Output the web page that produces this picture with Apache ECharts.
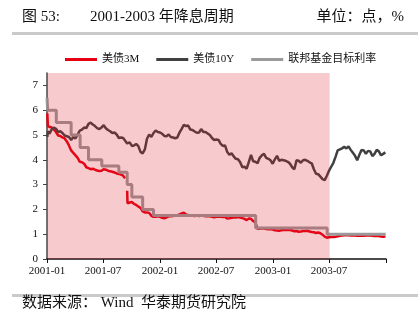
<!DOCTYPE html>
<html>
<head>
<meta charset="utf-8">
<script src="https://cdn.jsdelivr.net/npm/echarts@6/dist/echarts.min.js"></script>
<style>
html, body { margin: 0; padding: 0; background: #fff; }
#chart { width: 418px; height: 326px; }
</style>
</head>
<body>
<div id="chart"></div>
<script>
// Weekly observations (plus a few extra days around key moves), 2001-2003
const dates2001 = [
  '2001-01-02','2001-01-04','2001-01-09','2001-01-16','2001-01-23','2001-01-30',
  '2001-02-06','2001-02-13','2001-02-20','2001-02-27',
  '2001-03-06','2001-03-13','2001-03-20','2001-03-27',
  '2001-04-03','2001-04-10','2001-04-17','2001-04-24',
  '2001-05-01','2001-05-08','2001-05-15','2001-05-22','2001-05-29',
  '2001-06-05','2001-06-12','2001-06-19','2001-06-26',
  '2001-07-03','2001-07-10','2001-07-17','2001-07-24','2001-07-31',
  '2001-08-07','2001-08-14','2001-08-21','2001-08-28',
  '2001-09-04','2001-09-10','2001-09-11','2001-09-17','2001-09-18','2001-09-25',
  '2001-10-02','2001-10-09','2001-10-16','2001-10-23','2001-10-30',
  '2001-11-06','2001-11-13','2001-11-20','2001-11-27',
  '2001-12-04','2001-12-11','2001-12-18','2001-12-25'
];
const bill3m2001 = [
  5.87, 5.35, 5.28, 5.30, 5.22, 5.12,
  4.98, 4.96, 4.90, 4.86,
  4.74, 4.58, 4.38, 4.28,
  4.18, 4.08, 3.92, 3.90,
  3.84, 3.70, 3.66, 3.62, 3.64,
  3.60, 3.57, 3.55, 3.56,
  3.62, 3.60, 3.56, 3.54, 3.52,
  3.49, 3.45, 3.43, 3.40,
  3.36, 3.25, null, 2.75, 2.25, 2.28,
  2.30, 2.22, 2.18, 2.12, 2.06,
  1.92, 1.88, 1.88, 1.86,
  1.74, 1.70, 1.70, 1.72
];
const note10y2001 = [
  4.92, 5.15, 5.05, 5.22, 5.30, 5.25,
  5.12, 5.15, 5.08, 4.98,
  4.95, 4.92, 4.80, 4.92,
  4.86, 5.02, 5.18, 5.22,
  5.30, 5.28, 5.45, 5.50, 5.42,
  5.36, 5.28, 5.24, 5.30,
  5.40, 5.27, 5.20, 5.15, 5.08,
  5.10, 5.02, 4.88, 4.90,
  4.88, 4.82, null, 4.66, 4.70, 4.70,
  4.56, 4.58, 4.64, 4.55, 4.32,
  4.26, 4.42, 4.85, 5.02,
  4.92, 5.08, 5.18, 5.12
];

const dates2002 = [
  '2002-01-01','2002-01-08','2002-01-15','2002-01-22','2002-01-29',
  '2002-02-05','2002-02-12','2002-02-19','2002-02-26',
  '2002-03-05','2002-03-12','2002-03-19','2002-03-26',
  '2002-04-02','2002-04-09','2002-04-16','2002-04-23','2002-04-30',
  '2002-05-07','2002-05-14','2002-05-21','2002-05-28',
  '2002-06-04','2002-06-11','2002-06-18','2002-06-25',
  '2002-07-02','2002-07-09','2002-07-16','2002-07-23','2002-07-30',
  '2002-08-06','2002-08-13','2002-08-20','2002-08-27',
  '2002-09-03','2002-09-10','2002-09-17','2002-09-24',
  '2002-10-01','2002-10-08','2002-10-15','2002-10-22','2002-10-29',
  '2002-11-05','2002-11-12','2002-11-19','2002-11-26',
  '2002-12-03','2002-12-10','2002-12-17','2002-12-24','2002-12-31'
];
const bill3m2002 = [
  1.70, 1.66, 1.64, 1.68, 1.72,
  1.72, 1.73, 1.75, 1.77,
  1.80, 1.84, 1.87, 1.80,
  1.77, 1.74, 1.74, 1.73, 1.75,
  1.73, 1.75, 1.74, 1.72,
  1.72, 1.72, 1.70, 1.68,
  1.70, 1.71, 1.70, 1.69, 1.69,
  1.63, 1.64, 1.66, 1.67,
  1.67, 1.69, 1.67, 1.65,
  1.62, 1.57, 1.63, 1.62, 1.53,
  1.47, 1.22, 1.22, 1.24,
  1.23, 1.21, 1.20, 1.20, 1.19
];
const note10y2002 = [
  5.10, 5.05, 4.96, 4.95, 5.02,
  4.92, 4.90, 4.87, 4.90,
  5.10, 5.25, 5.41, 5.36,
  5.38, 5.22, 5.20, 5.14, 5.09,
  5.10, 5.24, 5.12, 5.12,
  5.06, 5.00, 4.88, 4.80,
  4.82, 4.80, 4.64, 4.56, 4.58,
  4.32, 4.20, 4.26, 4.14,
  4.04, 4.02, 3.90, 3.70,
  3.72, 3.64, 3.92, 4.20, 3.94,
  3.92, 3.86, 4.08, 4.18,
  4.24, 4.08, 4.04, 3.98, 3.84
];

const dates2003 = [
  '2003-01-07','2003-01-14','2003-01-21','2003-01-28',
  '2003-02-04','2003-02-11','2003-02-18','2003-02-25',
  '2003-03-04','2003-03-11','2003-03-18','2003-03-25',
  '2003-04-01','2003-04-08','2003-04-15','2003-04-22','2003-04-29',
  '2003-05-06','2003-05-13','2003-05-20','2003-05-27',
  '2003-06-03','2003-06-10','2003-06-17','2003-06-24',
  '2003-07-01','2003-07-08','2003-07-15','2003-07-22','2003-07-29',
  '2003-08-05','2003-08-12','2003-08-19','2003-08-26',
  '2003-09-02','2003-09-09','2003-09-16','2003-09-23','2003-09-30',
  '2003-10-07','2003-10-14','2003-10-21','2003-10-28',
  '2003-11-04','2003-11-11','2003-11-18','2003-11-25',
  '2003-12-02','2003-12-09','2003-12-16','2003-12-23','2003-12-30'
];
const bill3m2003 = [
  1.16, 1.15, 1.14, 1.16,
  1.17, 1.17, 1.18, 1.17,
  1.15, 1.12, 1.13, 1.10,
  1.11, 1.13, 1.13, 1.14, 1.11,
  1.09, 1.08, 1.05, 1.07,
  1.04, 0.98, 0.90, 0.86,
  0.88, 0.89, 0.89, 0.90, 0.92,
  0.94, 0.95, 0.96, 0.97,
  0.96, 0.95, 0.96, 0.95, 0.94,
  0.95, 0.94, 0.94, 0.95,
  0.95, 0.95, 0.94, 0.93,
  0.94, 0.93, 0.91, 0.90, 0.91
];
const note10y2003 = [
  4.02, 4.16, 3.96, 4.00,
  3.98, 3.96, 3.92, 3.84,
  3.70, 3.62, 3.98, 3.96,
  3.88, 3.98, 4.00, 3.96, 3.90,
  3.86, 3.62, 3.44, 3.42,
  3.32, 3.22, 3.18, 3.36,
  3.56, 3.72, 3.88, 4.12, 4.38,
  4.42, 4.46, 4.52, 4.46,
  4.54, 4.40, 4.28, 4.16, 3.98,
  4.20, 4.40, 4.38, 4.24,
  4.36, 4.34, 4.15, 4.24,
  4.40, 4.34, 4.18, 4.24, 4.30
];

// Fed funds target: effective date of each change and the new level
const fedDates = [
  '2001-01-01','2001-01-03','2001-01-31','2001-03-20','2001-04-18','2001-05-15',
  '2001-06-27','2001-08-21','2001-09-17','2001-10-02','2001-11-06','2001-12-11',
  '2002-11-06','2003-06-25','2003-12-31'
];
const fedRates = [
  6.5, 6.0, 5.5, 5.0, 4.5, 4.0,
  3.75, 3.5, 3.0, 2.5, 2.0, 1.75,
  1.25, 1.0, 1.0
];

// Easing cycle shading
const easingStart = '2001-01-01';
const easingEnd = '2003-07-03';

// Axis ranges and tick labels
const xStart = '2001-01-01';
const xEnd = '2004-01-01';
const xTickDates = ['2001-01-01','2001-07-01','2002-01-01','2002-07-01','2003-01-01','2003-07-01','2004-01-01'];
const xLabelDates = ['2001-01-01','2001-07-01','2002-01-01','2002-07-01','2003-01-01','2003-07-01'];
const yTicks = [0, 1, 2, 3, 4, 5, 6, 7];
const yMax = 7.5;

const seriesNames = ['美债3M', '美债10Y', '联邦基金目标利率'];

function toTime(s) {
  const p = s.split('-').map(Number);
  return new Date(p[0], p[1] - 1, p[2]).getTime();
}
function pairs(ds, vs) {
  return ds.map((d, i) => [toTime(d), vs[i]]);
}

const dates = dates2001.concat(dates2002, dates2003);
const bill3m = bill3m2001.concat(bill3m2002, bill3m2003);
const note10y = note10y2001.concat(note10y2002, note10y2003);

const serif = "'Liberation Serif', 'Noto Sans CJK SC', serif";

const chart = echarts.init(document.getElementById('chart'), null, { renderer: 'canvas' });

chart.setOption({
  animation: false,
  backgroundColor: '#ffffff',
  grid: { left: 47, right: 32, top: 73, bottom: 67, containLabel: false },
  legend: {
    data: seriesNames,
    left: 60,
    top: 49,
    icon: 'rect',
    itemWidth: 32,
    itemHeight: 3,
    itemGap: 17,
    textStyle: { fontSize: 11, fontFamily: serif, color: '#111' }
  },
  xAxis: {
    // dates are plotted as timestamps on a linear axis
    type: 'value',
    min: toTime(xStart),
    max: toTime(xEnd),
    axisLine: { show: true, onZero: false, lineStyle: { color: '#111', width: 1.5 } },
    axisTick: {
      show: true, length: 4, inside: false,
      lineStyle: { color: '#111', width: 1 },
      customValues: xTickDates.map(toTime)
    },
    axisLabel: {
      customValues: xLabelDates.map(toTime),
      fontSize: 11,
      fontFamily: serif,
      color: '#111',
      margin: 7,
      formatter: function (v) {
        const d = new Date(v);
        const m = d.getMonth() + 1;
        return d.getFullYear() + '-' + (m < 10 ? '0' + m : m);
      }
    },
    splitLine: { show: false }
  },
  yAxis: {
    type: 'value',
    min: 0,
    max: yMax,
    interval: 1,
    axisLine: { show: true, lineStyle: { color: '#444', width: 1.5 } },
    axisTick: { show: true, length: 4, lineStyle: { color: '#444' }, customValues: yTicks },
    axisLabel: {
      customValues: yTicks,
      fontSize: 11, fontFamily: serif, color: '#111', margin: 9
    },
    splitLine: { show: false }
  },
  series: [
    {
      name: seriesNames[0],
      type: 'line',
      data: pairs(dates, bill3m),
      showSymbol: false,
      symbol: 'none',
      connectNulls: false,
      lineStyle: { color: '#e60012', width: 2.5 },
      itemStyle: { color: '#e60012' },
      z: 2
    },
    {
      name: seriesNames[1],
      type: 'line',
      data: pairs(dates, note10y),
      showSymbol: false,
      symbol: 'none',
      connectNulls: true,
      lineStyle: { color: '#404040', width: 2.5 },
      itemStyle: { color: '#404040' },
      z: 2
    },
    {
      name: seriesNames[2],
      type: 'line',
      step: 'end',
      data: pairs(fedDates, fedRates),
      showSymbol: false,
      symbol: 'none',
      lineStyle: { color: '#9a9a9a', width: 3 },
      itemStyle: { color: '#9a9a9a' },
      z: 2
    },
    {
      // translucent band laid over the lines for the easing period
      type: 'custom',
      silent: true,
      z: 10,
      data: [[toTime(easingStart), toTime(easingEnd), 0, yMax]],
      encode: { x: [0, 1], y: [2, 3] },
      renderItem: function (params, api) {
        const a = api.coord([api.value(0), api.value(2)]);
        const b = api.coord([api.value(1), api.value(3)]);
        return {
          type: 'rect',
          shape: { x: a[0], y: b[1], width: b[0] - a[0], height: a[1] - b[1] },
          style: { fill: 'rgba(220, 30, 45, 0.23)' }
        };
      }
    }
  ],
  graphic: [
    { type: 'text', x: 22, y: 17, style: { text: '图 53:', font: '15px ' + serif, fill: '#111', verticalAlign: 'middle' } },
    { type: 'text', x: 90, y: 17, style: { text: '2001-2003 年降息周期', font: '15px ' + serif, fill: '#111', verticalAlign: 'middle' } },
    { type: 'text', x: 404, y: 17, style: { text: '单位：点，%', font: '15px ' + serif, fill: '#111', align: 'right', verticalAlign: 'middle' } },
    { type: 'rect', shape: { x: 12, y: 32, width: 406, height: 3 }, style: { fill: '#cacaca' } },
    { type: 'rect', shape: { x: 12, y: 294, width: 406, height: 3 }, style: { fill: '#cacaca' } },
    { type: 'text', x: 22, y: 303, style: { text: '数据来源： Wind  华泰期货研究院', font: '15px ' + serif, fill: '#111', verticalAlign: 'middle' } }
  ]
});
</script>
</body>
</html>
